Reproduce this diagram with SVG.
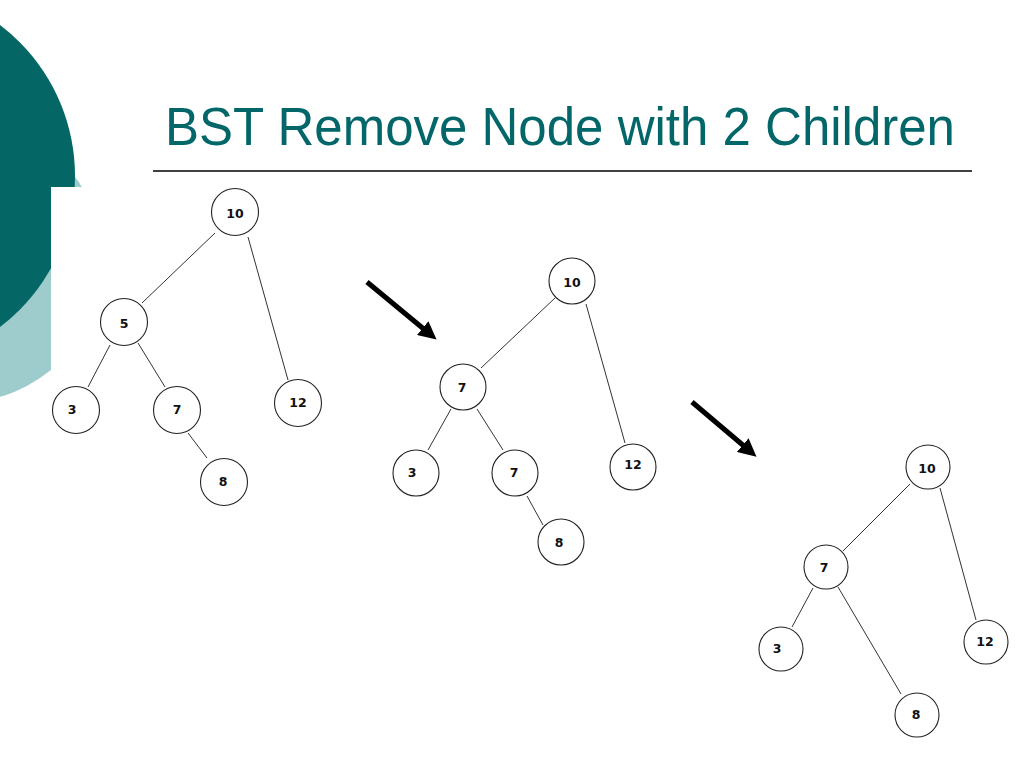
<svg xmlns="http://www.w3.org/2000/svg" width="1024" height="768" viewBox="0 0 1024 768">
<style>
.n circle{fill:#fff;stroke:#222;stroke-width:1.1}
.n text{font-family:"DejaVu Sans",Verdana,sans-serif;font-weight:bold;font-size:12.5px;fill:#111;text-anchor:middle;dominant-baseline:central}
.e line{stroke:#333;stroke-width:1}
.arr{stroke:#000;stroke-width:5;stroke-linecap:butt;marker-end:url(#ah)}
.title{font-family:"Liberation Sans",Arial,sans-serif;font-size:54px;fill:#036769}
</style>
<defs>
<marker id="ah" viewBox="0 0 10 10" refX="6" refY="5" markerWidth="3.6" markerHeight="3.6" orient="auto" markerUnits="strokeWidth">
<path d="M0,0 L10,5 L0,10 Z" fill="#000"/>
</marker>
</defs>
<rect width="1024" height="768" fill="#fff"/>
<g id="decoration">
<circle cx="-39.6" cy="260.5" r="142" fill="#9ecbcc"/>
<circle cx="-114.5" cy="176" r="189.5" fill="#046665"/>
<rect x="51" y="187" width="290" height="330" fill="#fff"/>
</g>
<text class="title" x="165" y="145" textLength="790" lengthAdjust="spacingAndGlyphs">BST Remove Node with 2 Children</text>
<line x1="153" y1="171" x2="972" y2="171" stroke="#000" stroke-width="1.5"/>

<g id="connectors">
<g class="e">
<line x1="215" y1="233" x2="142" y2="303"/>
<line x1="248" y1="237" x2="288" y2="380"/>
<line x1="110" y1="345" x2="88" y2="387"/>
<line x1="138" y1="343" x2="165" y2="387"/>
<line x1="188" y1="433" x2="207" y2="458"/>

<line x1="555" y1="298" x2="481" y2="368"/>
<line x1="586" y1="304" x2="625" y2="443"/>
<line x1="451" y1="409" x2="428" y2="450"/>
<line x1="477" y1="409" x2="503" y2="450"/>
<line x1="527" y1="496" x2="543" y2="525"/>

<line x1="910" y1="484" x2="843" y2="551"/>
<line x1="940" y1="488" x2="976" y2="620"/>
<line x1="813" y1="588" x2="792" y2="627"/>
<line x1="838" y1="587" x2="901" y2="694"/>
</g>
<line class="arr" x1="367" y1="282" x2="431" y2="335"/>
<line class="arr" x1="692" y1="402" x2="751" y2="452"/>
</g>

<g id="tree1">
<g id="t1-10" class="n"><circle cx="235" cy="212" r="23.5"/><text x="235" y="213">10</text></g>
<g id="t1-5" class="n"><circle cx="124" cy="322" r="23.5"/><text x="124" y="323">5</text></g>
<g id="t1-3" class="n"><circle cx="76" cy="410" r="23.5"/><text x="72" y="409">3</text></g>
<g id="t1-7" class="n"><circle cx="177" cy="410" r="23.5"/><text x="177" y="409">7</text></g>
<g id="t1-12" class="n"><circle cx="298" cy="403" r="23.5"/><text x="298" y="402">12</text></g>
<g id="t1-8" class="n"><circle cx="224" cy="482" r="23.5"/><text x="223" y="481">8</text></g>
</g>

<g id="tree2">
<g id="t2-10" class="n"><circle cx="572" cy="281" r="23"/><text x="572" y="282">10</text></g>
<g id="t2-7" class="n"><circle cx="463" cy="387" r="23"/><text x="462" y="387">7</text></g>
<g id="t2-3" class="n"><circle cx="416" cy="473" r="23"/><text x="412" y="472">3</text></g>
<g id="t2-7b" class="n"><circle cx="515" cy="473" r="23"/><text x="514" y="472">7</text></g>
<g id="t2-12" class="n"><circle cx="633" cy="467" r="23"/><text x="633" y="464">12</text></g>
<g id="t2-8" class="n"><circle cx="561" cy="542" r="23"/><text x="559" y="542">8</text></g>
</g>

<g id="tree3">
<g id="t3-10" class="n"><circle cx="928" cy="467" r="22"/><text x="927" y="468">10</text></g>
<g id="t3-7" class="n"><circle cx="826" cy="567" r="22"/><text x="824" y="567">7</text></g>
<g id="t3-3" class="n"><circle cx="781" cy="649" r="22"/><text x="777" y="648">3</text></g>
<g id="t3-12" class="n"><circle cx="986" cy="642" r="22"/><text x="985" y="641">12</text></g>
<g id="t3-8" class="n"><circle cx="917" cy="715" r="22"/><text x="916" y="714">8</text></g>
</g>
</svg>
